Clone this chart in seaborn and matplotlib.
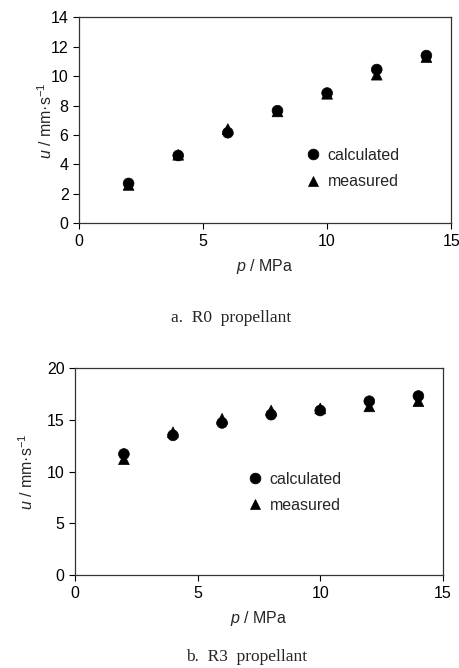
import matplotlib
matplotlib.use("Agg")
import matplotlib.pyplot as plt
import seaborn as sns
import pandas as pd

# ---- data ----
pressure = [2, 4, 6, 8, 10, 12, 14]
r0_calculated = [2.7, 4.6, 6.15, 7.65, 8.85, 10.45, 11.4]
r0_measured = [2.6, 4.65, 6.4, 7.6, 8.8, 10.1, 11.3]
r3_calculated = [11.7, 13.5, 14.7, 15.5, 15.9, 16.8, 17.3]
r3_measured = [11.2, 13.8, 15.1, 15.9, 16.1, 16.3, 16.8]
series_names = ["calculated", "measured"]
captions = ["a.  R0  propellant", "b.  R3  propellant"]

sns.set_style("ticks")
plt.rcParams["font.family"] = ["Liberation Sans", "DejaVu Sans"]
plt.rcParams["mathtext.fontset"] = "custom"
plt.rcParams["mathtext.it"] = "Liberation Sans:italic"
plt.rcParams["mathtext.rm"] = "Liberation Sans"

fig = plt.figure(figsize=(4.59, 6.68), dpi=100)
ax1 = fig.add_axes([0.172, 0.666, 0.811, 0.308])
ax2 = fig.add_axes([0.163, 0.139, 0.802, 0.310])


def make_df(calc, meas):
    # measured first so calculated circles are drawn on top
    return pd.DataFrame({
        "p": pressure * 2,
        "u": list(meas) + list(calc),
        "series": [series_names[1]] * len(pressure) + [series_names[0]] * len(pressure),
    })


panels = [
    (ax1, make_df(r0_calculated, r0_measured), (0, 14), [0, 2, 4, 6, 8, 10, 12, 14], (0.735, 0.265), -3),
    (ax2, make_df(r3_calculated, r3_measured), (0, 20), [0, 5, 10, 15, 20], (0.597, 0.40), 8),
]

for ax, df, ylim, yticks, legpos, ylpad in panels:
    sns.scatterplot(data=df, x="p", y="u", style="series", hue="series",
                    hue_order=series_names, style_order=series_names,
                    markers={"calculated": "o", "measured": "^"},
                    palette={"calculated": "black", "measured": "black"},
                    s=60, edgecolor="black", linewidth=0.5, ax=ax, zorder=3)
    ax.set_xlim(0, 15)
    ax.set_ylim(*ylim)
    ax.set_xticks([0, 5, 10, 15])
    ax.set_yticks(yticks)
    ax.tick_params(direction="out", length=4, width=0.8, labelsize=11.5, colors="black")
    for sp in ax.spines.values():
        sp.set_visible(True)
        sp.set_linewidth(0.9)
        sp.set_color("#333333")
    ax.set_xlabel(r"$p$ / MPa", fontsize=11.5, labelpad=6)
    ax.set_ylabel(r"$u$ / mm·s$^{\mathregular{-1}}$", fontsize=11.5, labelpad=ylpad)
    ax.legend(loc="center", bbox_to_anchor=legpos, frameon=False,
              fontsize=11.5, handlelength=1.0, handletextpad=0.4,
              labelspacing=0.7, markerscale=1.0, title=None)

fig.text(0.503, 0.524, captions[0], ha="center", va="center",
         family=["Liberation Serif", "DejaVu Serif"], fontsize=12.5)
fig.text(0.538, 0.017, captions[1], ha="center", va="center",
         family=["Liberation Serif", "DejaVu Serif"], fontsize=12.5)

fig.savefig("out.png", dpi=100)
